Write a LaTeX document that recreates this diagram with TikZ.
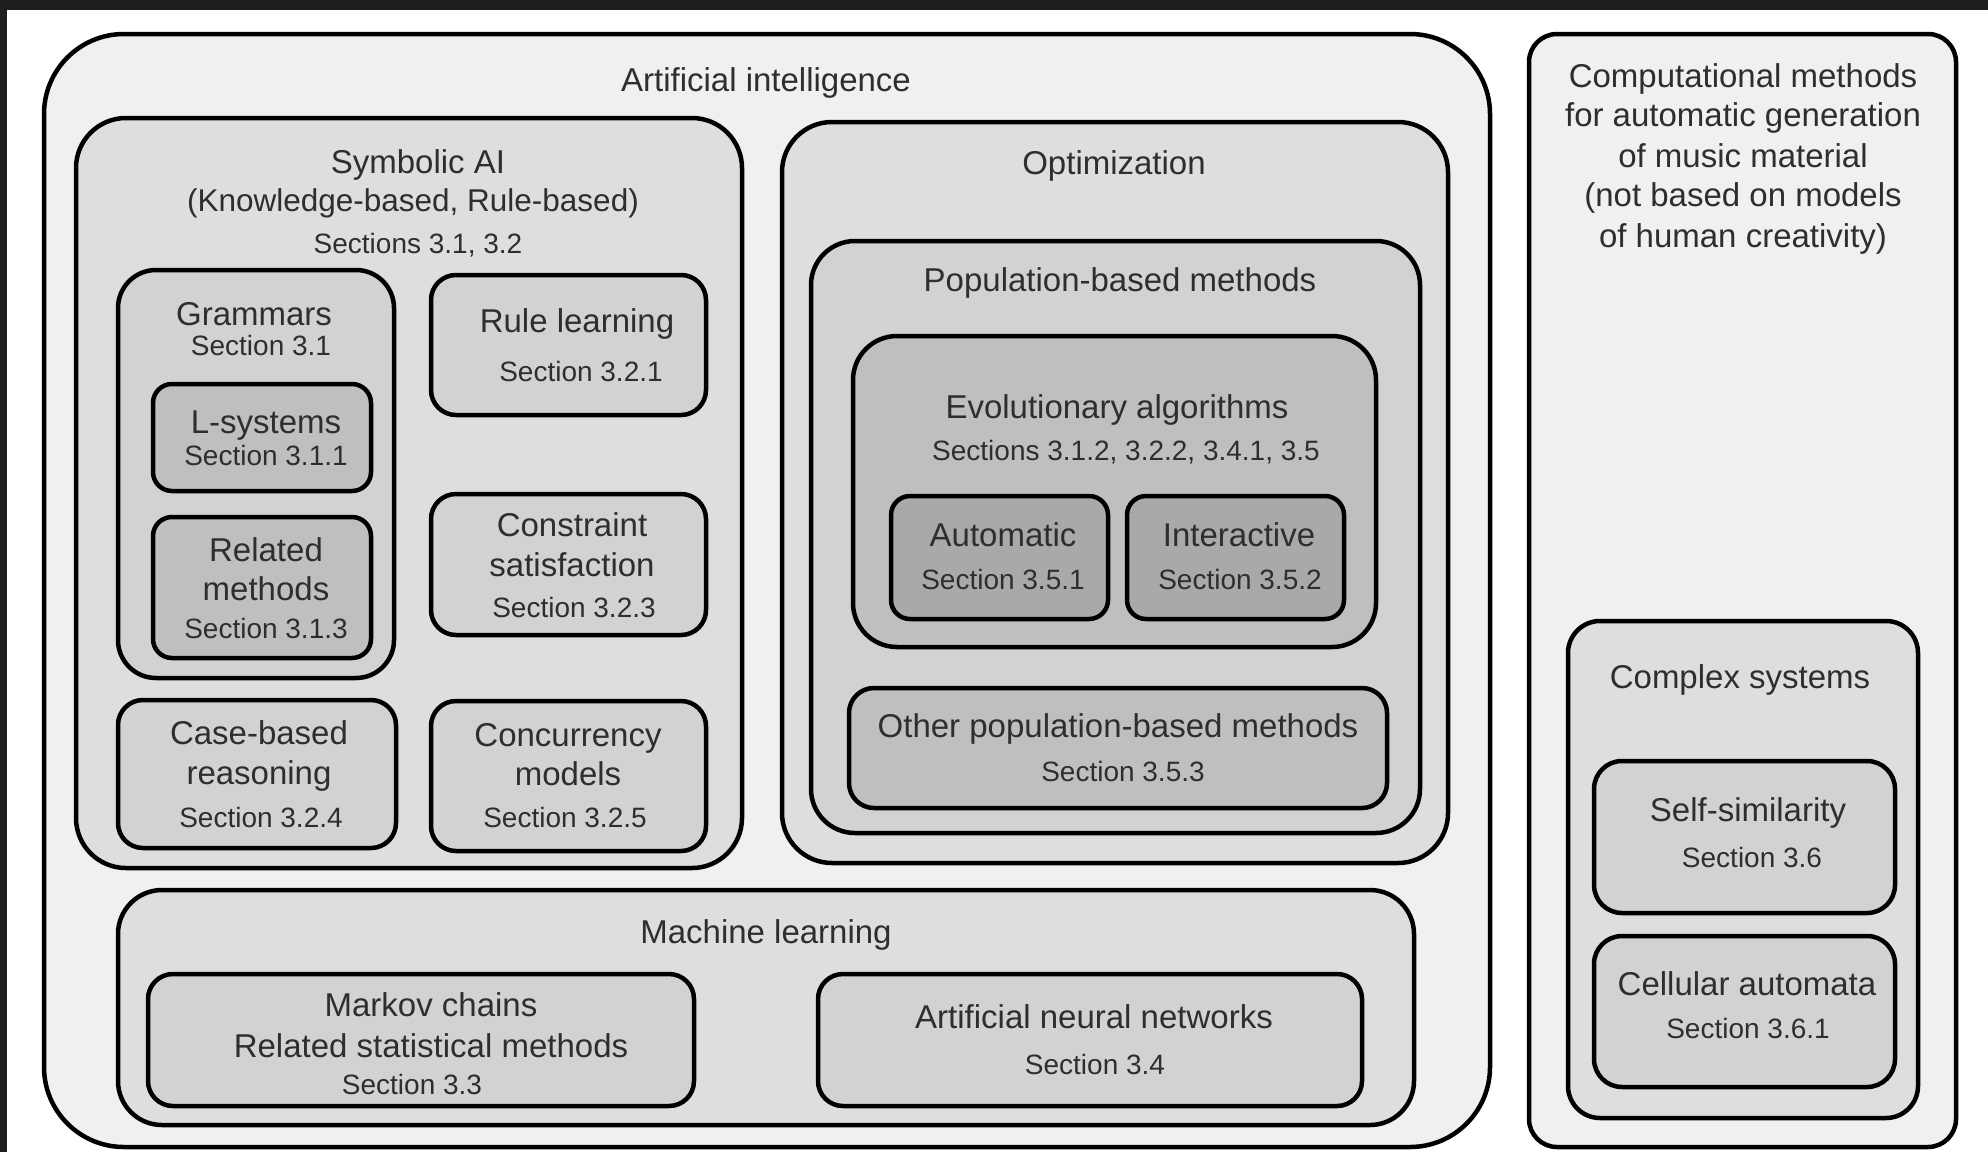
\documentclass[tikz,border=0pt]{standalone}
\usepackage{fontspec}
\setmainfont{Liberation Sans}
\definecolor{bgdark}{HTML}{1E1E1E}
\definecolor{txt}{HTML}{2E2E2E}
\definecolor{fA}{HTML}{F0F0F0}
\definecolor{fB}{HTML}{DEDEDE}
\definecolor{fC}{HTML}{D2D2D2}
\definecolor{fD}{HTML}{BFBFBF}
\definecolor{fE}{HTML}{A9A9A9}
\tikzset{
  box/.style={draw=black, line width=4.5pt, inner sep=0pt, outer sep=0pt},
  ttl/.style={font=\fontsize{33}{40}\selectfont, text=txt, anchor=base, inner sep=0pt},
  sec/.style={font=\fontsize{28}{34}\selectfont, text=txt, anchor=base, inner sep=0pt},
}
\begin{document}
\begin{tikzpicture}[x=1pt,y=-1pt]
\useasboundingbox (0,0) rectangle (1988,1152);
\fill[white] (0,0) rectangle (1988,1152);
\fill[bgdark] (0,0) rectangle (1988,10);
\fill[bgdark] (0,0) rectangle (7,1152);

% Artificial intelligence
\node[box, fill=fA, rounded corners=80pt, minimum width=1446pt, minimum height=1113pt] (ai) at (767,590.5) {};
\node[ttl] (tai) at (766,91) {Artificial intelligence};

% Symbolic AI
\node[box, fill=fB, rounded corners=50pt, minimum width=666pt, minimum height=750pt] (sym) at (409,493) {};
\node[ttl] (tsym1) at (418,173) {Symbolic AI};
\node[ttl, font=\fontsize{31.5}{38}\selectfont] (tsym2) at (413,211) {(Knowledge-based, Rule-based)};
\node[sec] (tsym3) at (418,253) {Sections 3.1, 3.2};

% Grammars
\node[box, fill=fC, rounded corners=38pt, minimum width=276pt, minimum height=408pt] (gram) at (256,474) {};
\node[ttl] (tgram1) at (254,325) {Grammars};
\node[sec] (tgram2) at (261,355) {Section 3.1};

\node[box, fill=fD, rounded corners=19pt, minimum width=218pt, minimum height=107pt] (lsys) at (262,437.5) {};
\node[ttl] (tlsys1) at (266,433) {L-systems};
\node[sec] (tlsys2) at (266,465) {Section 3.1.1};

\node[box, fill=fD, rounded corners=19pt, minimum width=218pt, minimum height=141pt] (rel) at (262,587.5) {};
\node[ttl] (trel1) at (266,561) {Related};
\node[ttl] (trel2) at (266,600) {methods};
\node[sec] (trel3) at (266,638) {Section 3.1.3};

% Rule learning
\node[box, fill=fC, rounded corners=25pt, minimum width=275pt, minimum height=140pt] (rule) at (568.5,345) {};
\node[ttl] (trule1) at (577,332) {Rule learning};
\node[sec] (trule2) at (581,381) {Section 3.2.1};

% Constraint satisfaction
\node[box, fill=fC, rounded corners=25pt, minimum width=275pt, minimum height=141pt] (cons) at (568.5,564.5) {};
\node[ttl] (tcons1) at (572,536) {Constraint};
\node[ttl] (tcons2) at (572,576) {satisfaction};
\node[sec] (tcons3) at (574,617) {Section 3.2.3};

% Case-based reasoning
\node[box, fill=fC, rounded corners=25pt, minimum width=278pt, minimum height=148pt] (cbr) at (257,774) {};
\node[ttl] (tcbr1) at (259,744) {Case-based};
\node[ttl] (tcbr2) at (259,784) {reasoning};
\node[sec] (tcbr3) at (261,827) {Section 3.2.4};

% Concurrency models
\node[box, fill=fC, rounded corners=25pt, minimum width=275pt, minimum height=150pt] (conc) at (568.5,776) {};
\node[ttl] (tconc1) at (568,746) {Concurrency};
\node[ttl] (tconc2) at (568,785) {models};
\node[sec] (tconc3) at (565,827) {Section 3.2.5};

% Optimization
\node[box, fill=fB, rounded corners=50pt, minimum width=666pt, minimum height=741pt] (opt) at (1115,492.5) {};
\node[ttl] (topt) at (1114,174) {Optimization};

\node[box, fill=fC, rounded corners=44pt, minimum width=609pt, minimum height=592pt] (pop) at (1115.5,537) {};
\node[ttl] (tpop) at (1120,291) {Population-based methods};

\node[box, fill=fD, rounded corners=44pt, minimum width=523pt, minimum height=311pt] (evo) at (1114.5,491.5) {};
\node[ttl] (tevo1) at (1117,418) {Evolutionary algorithms};
\node[sec] (tevo2) at (1126,460) {Sections 3.1.2, 3.2.2, 3.4.1, 3.5};

\node[box, fill=fE, rounded corners=19pt, minimum width=217pt, minimum height=123pt] (auto) at (999.5,557.5) {};
\node[ttl] (tauto1) at (1003,546) {Automatic};
\node[sec] (tauto2) at (1003,589) {Section 3.5.1};

\node[box, fill=fE, rounded corners=19pt, minimum width=217pt, minimum height=123pt] (inter) at (1235.5,557.5) {};
\node[ttl] (tinter1) at (1239,546) {Interactive};
\node[sec] (tinter2) at (1240,589) {Section 3.5.2};

\node[box, fill=fD, rounded corners=25pt, minimum width=538pt, minimum height=120pt] (other) at (1118,748) {};
\node[ttl] (tother1) at (1118,737) {Other population-based methods};
\node[sec] (tother2) at (1123,781) {Section 3.5.3};

% Machine learning
\node[box, fill=fB, rounded corners=44pt, minimum width=1296pt, minimum height=235pt] (ml) at (766,1007.5) {};
\node[ttl] (tml) at (766,943) {Machine learning};

\node[box, fill=fC, rounded corners=25pt, minimum width=546pt, minimum height=132pt] (markov) at (421,1040) {};
\node[ttl] (tmk1) at (431,1016) {Markov chains};
\node[ttl] (tmk2) at (431,1057) {Related statistical methods};
\node[sec] (tmk3) at (412,1094) {Section 3.3};

\node[box, fill=fC, rounded corners=25pt, minimum width=544pt, minimum height=132pt] (ann) at (1090,1040) {};
\node[ttl] (tann1) at (1094,1028) {Artificial neural networks};
\node[sec] (tann2) at (1095,1074) {Section 3.4};

% Right box
\node[box, fill=fA, rounded corners=28pt, minimum width=427pt, minimum height=1113pt] (comp) at (1742.5,590.5) {};
\node[ttl] (tc1) at (1743,87) {Computational methods};
\node[ttl] (tc2) at (1743,126) {for automatic generation};
\node[ttl] (tc3) at (1743,167) {of music material};
\node[ttl] (tc4) at (1743,206) {(not based on models};
\node[ttl] (tc5) at (1743,247) {of human creativity)};

\node[box, fill=fB, rounded corners=32pt, minimum width=350pt, minimum height=497pt] (cs) at (1743,869.5) {};
\node[ttl] (tcs) at (1740,688) {Complex systems};

\node[box, fill=fC, rounded corners=28pt, minimum width=301pt, minimum height=152pt] (self) at (1744.5,837) {};
\node[ttl] (tself1) at (1748,821) {Self-similarity};
\node[sec] (tself2) at (1752,867) {Section 3.6};

\node[box, fill=fC, rounded corners=28pt, minimum width=301pt, minimum height=151pt] (cell) at (1744.5,1011.5) {};
\node[ttl] (tcell1) at (1747,995) {Cellular automata};
\node[sec] (tcell2) at (1748,1038) {Section 3.6.1};
\end{tikzpicture}
\end{document}
